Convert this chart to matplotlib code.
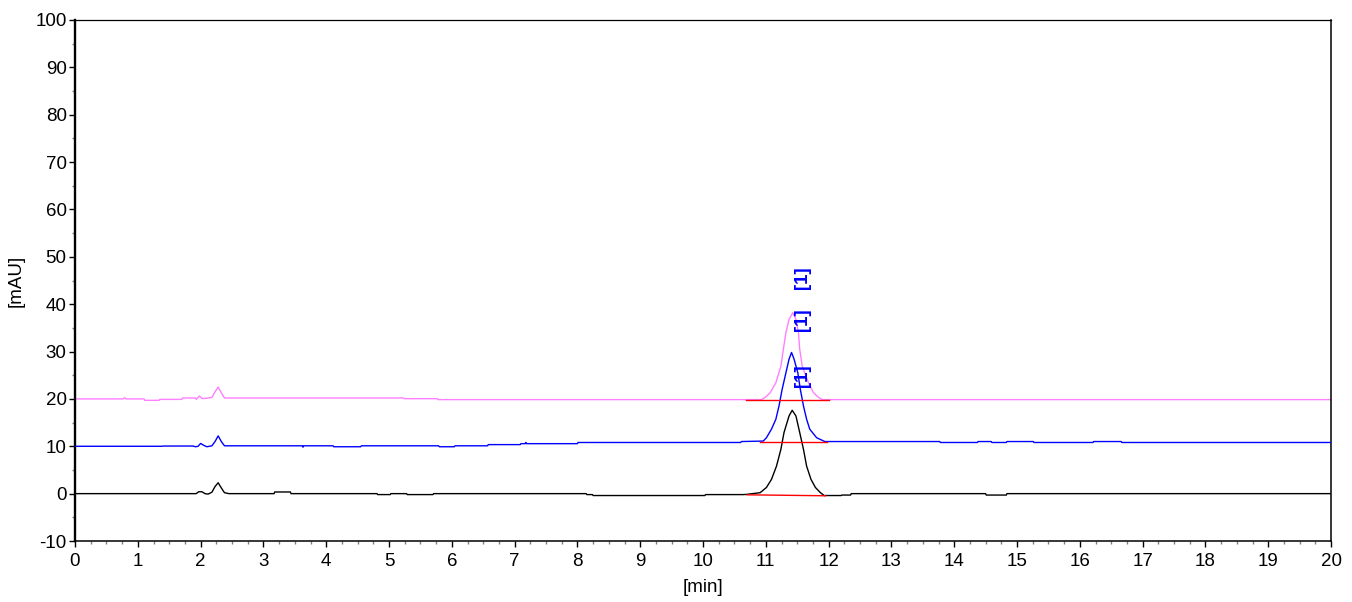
import matplotlib
matplotlib.use("Agg")
import matplotlib.pyplot as plt
from matplotlib.ticker import MultipleLocator

plt.rcParams['font.family'] = ['Liberation Sans', 'DejaVu Sans']
plt.rcParams['axes.unicode_minus'] = False

# ---- data ----
black_t = [0, 1.93, 1.97, 2.02, 2.07, 2.12, 2.18, 2.23, 2.28, 2.33, 2.38, 2.45,
           3.17, 3.18, 3.43, 3.44, 4.81, 4.82, 5.02, 5.03, 5.28, 5.29, 5.70, 5.71,
           8.14, 8.15, 8.24, 8.25, 10.03, 10.04, 10.65, 10.70, 10.91, 11.01, 11.09,
           11.17, 11.24, 11.29, 11.37, 11.42, 11.48, 11.54, 11.60, 11.65, 11.72,
           11.79, 11.87, 11.93, 12.20, 12.21, 12.35, 12.36, 14.50, 14.51, 14.83,
           14.84, 20]
black_v = [0, 0, 0.4, 0.4, 0.0, -0.1, 0.3, 1.5, 2.3, 1.2, 0.2, 0.0,
           0.0, 0.35, 0.35, 0.0, 0.0, -0.2, -0.2, 0.0, 0.0, -0.2, -0.2, 0.0,
           0.0, -0.2, -0.2, -0.4, -0.4, -0.2, -0.2, -0.15, 0.2, 1.3, 3.0,
           5.8, 9.35, 12.9, 16.4, 17.6, 16.4, 12.9, 9.35, 5.8, 3.0,
           1.3, 0.2, -0.4, -0.4, -0.3, -0.3, 0.0, 0.0, -0.3, -0.3,
           0.0, 0.0]

blue_t = [0, 1.39, 1.40, 1.88, 1.92, 1.96, 2.00, 2.05, 2.10, 2.18, 2.23, 2.28,
          2.33, 2.38, 2.45, 3.62, 3.63, 3.64, 4.11, 4.12, 4.55, 4.56, 5.79, 5.80,
          6.04, 6.05, 6.57, 6.58, 7.09, 7.10, 7.17, 7.18, 7.19, 8.00, 8.01, 10.60,
          10.61, 10.96, 11.01, 11.09, 11.16, 11.21, 11.26, 11.32, 11.37, 11.41,
          11.45, 11.51, 11.55, 11.60, 11.65, 11.70, 11.81, 11.94, 13.77, 13.78,
          14.37, 14.38, 14.59, 14.60, 14.83, 14.84, 15.26, 15.27, 16.21, 16.22,
          16.66, 16.67, 20]
blue_v = [10.0, 10.0, 10.05, 10.05, 9.9, 10.0, 10.6, 10.2, 9.9, 10.1, 11.0, 12.2,
          11.0, 10.1, 10.1, 10.1, 9.8, 10.1, 10.1, 9.9, 9.9, 10.1, 10.1, 9.9,
          9.9, 10.1, 10.1, 10.35, 10.35, 10.55, 10.55, 10.8, 10.55, 10.55, 10.8, 10.8,
          11.0, 11.1, 11.8, 13.6, 15.7, 18.5, 22.0, 25.5, 28.4, 29.8,
          28.4, 25.5, 22.0, 18.5, 15.7, 13.6, 11.8, 11.0, 11.0, 10.8,
          10.8, 11.0, 11.0, 10.8, 10.8, 11.0, 11.0, 10.8, 10.8, 11.0,
          11.0, 10.8, 10.8]

pink_t = [0, 0.77, 0.78, 0.80, 0.81, 1.10, 1.11, 1.34, 1.35, 1.70, 1.71, 1.92,
          1.93, 1.98, 2.02, 2.07, 2.18, 2.23, 2.28, 2.33, 2.38, 2.45, 5.23, 5.24,
          5.77, 5.78, 10.93, 10.99, 11.07, 11.16, 11.24, 11.28, 11.32, 11.37,
          11.43, 11.48, 11.52, 11.54, 11.58, 11.68, 11.76, 11.84, 11.90, 20]
pink_v = [20.0, 20.0, 20.2, 20.2, 20.0, 20.0, 19.7, 19.7, 19.9, 19.9, 20.2, 20.2,
          19.9, 20.6, 20.1, 20.1, 20.3, 21.5, 22.5, 21.3, 20.2, 20.2, 20.2, 20.05,
          20.05, 19.85, 19.85, 20.3, 21.3, 23.4, 26.9, 30.5, 34.0, 36.8,
          38.2, 36.8, 34.0, 30.5, 26.9, 23.4, 21.3, 20.3, 19.85, 19.85]

# integration baselines: (t_start, v_start, t_end, v_end)
base_black = [10.70, -0.25, 11.95, -0.45]
base_blue = [10.90, 11.0, 11.97, 11.0]
base_pink = [10.68, 19.85, 12.01, 19.85]

# peak labels
label_text = "[1]"
label_t = [11.58, 11.58, 11.58]
label_v = [24.8, 36.8, 45.5]

xticks = list(range(0, 21))
yticks = list(range(-10, 101, 10))

# ---- figure ----
fig = plt.figure(figsize=(13.52, 6.02), dpi=100)
ax = fig.add_axes([75/1352, 61/602, 1256/1352, 521/602])

ax.plot(black_t, black_v, color='#000000', lw=1.0, zorder=3)
ax.plot(blue_t, blue_v, color='#0000FF', lw=1.0, zorder=3)
ax.plot(pink_t, pink_v, color='#FF80FF', lw=1.0, zorder=2)

for b in (base_black, base_blue, base_pink):
    ax.plot([b[0], b[2]], [b[1], b[3]], color='#FF0000', lw=1.0, zorder=4)

for t, v in zip(label_t, label_v):
    ax.text(t, v, label_text, rotation=90, color='#0000FF', fontsize=13.5,
            fontweight='bold', ha='center', va='center', zorder=5)

ax.set_xlim(0, 20)
ax.set_ylim(-10, 100)
ax.set_xticks(xticks)
ax.set_yticks(yticks)
ax.xaxis.set_minor_locator(MultipleLocator(0.25))
ax.yaxis.set_minor_locator(MultipleLocator(5))
ax.tick_params(axis='both', which='major', direction='out', length=4, width=1,
               labelsize=13.5, pad=2)
ax.tick_params(axis='x', which='major', pad=5)
ax.tick_params(axis='both', which='minor', direction='out', length=2, width=1,
               color='#808080')

ax.spines['left'].set_linewidth(1.7)
ax.spines['bottom'].set_linewidth(1.1)
ax.spines['top'].set_linewidth(0.9)
ax.spines['right'].set_linewidth(1.1)

ax.set_xlabel('[min]', fontsize=13.5, labelpad=6)
ax.set_ylabel('[mAU]', fontsize=13.5, labelpad=8)

fig.savefig('out.png', dpi=100)
